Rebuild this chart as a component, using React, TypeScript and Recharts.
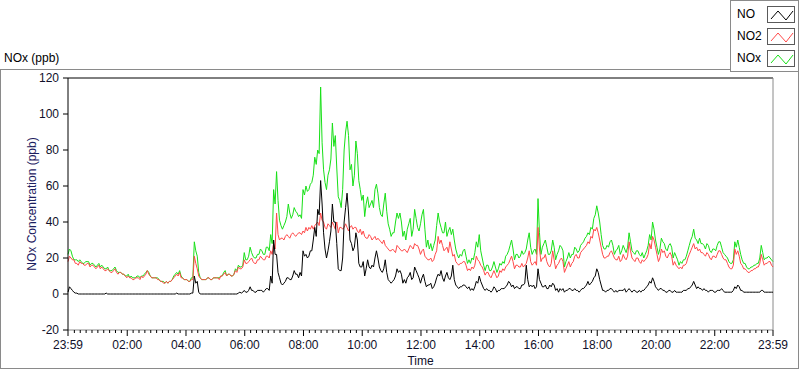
import { LineChart, Line, XAxis, YAxis, ReferenceLine } from "recharts";

// one sample every 3 minutes, starting at 23:59 of the previous day (20 per row = 1 hour)
const STEP_MIN = 3;

const noValues = [
  1, 4, 3, 2, 1, 0.5, 0.5, 0, 0, 0, 0, 0, 0, 0, 0, 0, 0, 0, 0, 0,
  0, 0, 0, 0, 0, 0, 0.5, 0, 0, 0, 0, 0, 0, 0, 0, 0, 0, 0, 0, 0,
  0, 0, 0, 0, 0, 0, 0, 0, 0, 0, 0, 0, 0, 0, 0, 0, 0, 0, 0, 0,
  0, 0, 0, 0, 0, 0, 0, 0, 0, 0, 0, 0, 0, 0, 0.5, 0, 0, 0, 0, 0,
  0, 0, 0, 0, 0.5, 0.5, 10, 6, 7, 1, 0, 0, 0, 0, 0, 0, 0, 0, 0, 0,
  0, 0, 0, 0, 0, 0, 0, 0, 0, 0, 0, 0, 0, 0, 0, 0, 0.5, 1, 0.5, 1,
  2, 1, 1, 2, 4, 2, 2, 1, 1, 2, 2, 2, 2, 1, 2, 3, 3, 2, 10, 6,
  30, 22, 22, 12, 9, 6, 5, 6, 7, 9, 9, 8, 8, 10, 13, 11, 11, 9, 12, 10,
  24, 21, 22, 20, 21, 24, 24, 30, 37, 32, 47, 44, 63, 50, 34, 25, 20, 24, 29, 35,
  50, 40, 40, 28, 14, 13, 13, 20, 40, 48, 56, 45, 30, 28, 24, 26, 34, 30, 17, 15,
  15, 18, 10, 14, 19, 15, 14, 16, 15, 20, 24, 20, 15, 13, 12, 14, 19, 12, 8, 7,
  6, 7, 8, 10, 14, 12, 13, 11, 6, 8, 6, 9, 10, 12, 8, 9, 15, 13, 11, 9,
  6, 9, 11, 7, 4, 5, 5, 6, 3, 4, 6, 9, 11, 10, 13, 9, 7, 10, 12, 9,
  8, 10, 16, 8, 5, 4, 3, 4, 4, 5, 5, 4, 3, 4, 2, 3, 2, 4, 7, 6,
  10, 7, 5, 3, 2, 3, 2, 2, 1, 2, 4, 3, 1, 2, 2, 3, 3, 3, 4, 5,
  7, 6, 4, 5, 3, 4, 4, 3, 3, 5, 5, 6, 16, 8, 4, 5, 4, 5, 3, 4,
  14, 8, 6, 4, 4, 5, 3, 3, 5, 4, 6, 5, 2, 3, 1, 3, 2, 3, 1, 2,
  2, 3, 3, 2, 2, 3, 2, 2, 1, 2, 3, 3, 4, 5, 7, 5, 6, 7, 9, 10,
  14, 12, 8, 5, 2, 2, 1, 2, 2, 3, 3, 2, 1, 2, 1, 2, 2, 2, 2, 3,
  1, 2, 3, 2, 1, 2, 2, 1, 1, 2, 1, 2, 2, 3, 4, 5, 7, 6, 9, 7,
  4, 3, 2, 3, 3, 2, 2, 1, 1, 2, 2, 1, 1, 2, 1, 1, 1, 1, 1, 2,
  2, 2, 3, 3, 4, 5, 7, 5, 3, 4, 3, 3, 2, 3, 2, 2, 1, 2, 2, 2,
  1, 1, 2, 2, 2, 3, 2, 1, 1, 1, 1, 1, 1, 2, 4, 3, 5, 4, 2, 2,
  1, 1, 1, 1, 1, 1, 1, 1, 1, 1, 1, 1, 2, 2, 1, 1, 1, 1, 1, 1, 1,
];

const no2Values = [
  18, 21, 20, 19, 19, 17, 17, 16, 18, 17, 17, 16, 16, 17, 17, 15, 16, 16, 15, 14,
  15, 16, 14, 15, 14, 13, 13, 14, 13, 12, 12, 13, 14, 12, 11, 12, 12, 11, 11, 10,
  9, 10, 9, 9, 8, 8, 9, 9, 9, 8, 10, 9, 10, 11, 13, 11, 10, 9, 9, 9,
  9, 8, 8, 7, 7, 6, 6, 7, 6, 7, 7, 8, 9, 10, 11, 10, 12, 9, 9, 8,
  8, 8, 7, 7, 8, 8, 21, 17, 14, 10, 9, 8, 8, 8, 8, 9, 9, 8, 8, 9,
  9, 9, 9, 8, 10, 10, 11, 12, 10, 11, 11, 10, 10, 11, 13, 12, 15, 14, 14, 15,
  19, 17, 17, 18, 19, 20, 18, 17, 17, 19, 19, 21, 20, 19, 19, 21, 21, 20, 24, 22,
  28, 25, 45, 33, 30, 31, 31, 30, 32, 33, 32, 31, 33, 34, 33, 32, 33, 34, 34, 33,
  35, 34, 37, 35, 37, 36, 38, 36, 38, 39, 40, 38, 45, 41, 40, 37, 36, 39, 38, 37,
  40, 38, 36, 40, 34, 37, 37, 36, 37, 39, 37, 35, 37, 38, 36, 37, 37, 35, 34, 36,
  33, 35, 32, 31, 31, 33, 32, 30, 31, 32, 30, 31, 30, 29, 28, 30, 27, 26, 25, 24,
  24, 25, 24, 23, 27, 26, 25, 24, 24, 25, 24, 23, 25, 27, 26, 25, 28, 27, 27, 25,
  22, 24, 25, 21, 20, 19, 19, 20, 18, 19, 22, 24, 32, 28, 30, 27, 24, 25, 26, 23,
  29, 25, 21, 22, 18, 17, 16, 17, 17, 18, 18, 16, 13, 14, 13, 15, 14, 16, 21, 19,
  18, 16, 15, 13, 10.5, 12, 12, 10, 9, 11, 13, 11, 9, 10, 13, 12, 14, 13, 15, 16,
  17, 19, 21, 18, 14, 16, 16, 15, 15, 17, 15, 16, 17, 20, 24, 18, 16, 17, 18, 16,
  37, 25, 18, 20, 20, 22, 18, 16, 15, 17, 24, 19, 14, 16, 17, 19, 20, 18, 12, 14,
  16, 18, 15, 17, 18, 21, 22, 20, 20, 23, 24, 25, 26, 27, 29, 28, 32, 31, 36, 35,
  37, 34, 30, 26, 22, 20, 20, 21, 21, 23, 24, 22, 20, 19, 19, 21, 18, 19, 22, 20,
  19, 21, 29, 24, 20, 19, 18, 20, 20, 18, 17, 19, 18, 19, 20, 22, 28, 25, 32, 30,
  26, 22, 18, 20, 25, 23, 24, 21, 20, 22, 23, 21, 16, 18, 16, 15, 14, 15, 14, 16,
  16, 17, 20, 22, 24, 26, 28, 25, 26, 24, 25, 23, 23, 22, 21, 23, 22, 20, 19, 21,
  21, 20, 22, 24, 24, 22, 20, 19, 19, 17, 15, 14, 14, 16, 25, 22, 24, 21, 17, 16,
  14, 14, 13, 12, 12, 13, 13, 14, 14, 15, 15, 17, 22, 19, 16, 17, 17, 18, 18, 16, 15,
];

const noxValues = [
  22, 25, 24, 21, 19, 19, 19, 18, 19, 18, 17, 17, 18, 18, 18, 16, 17, 17, 16, 15,
  16, 17, 15, 16, 15, 14, 14, 15, 13, 13, 13, 14, 15, 13, 12, 12, 12, 11, 11, 10,
  10, 11, 9, 10, 9, 9, 9, 10, 10, 9, 10, 10, 11, 12, 13, 12, 10, 9, 9, 9,
  9, 9, 8, 7, 7, 7, 6, 7, 6, 7, 7, 8, 10, 11, 12, 11, 13, 10, 9, 8,
  8, 8, 7, 7, 9, 9, 29, 24, 21, 12, 9, 8, 8, 8, 8, 9, 9, 8, 8, 9,
  9, 9, 9, 9, 10, 10, 12, 13, 10, 11, 11, 10, 10, 11, 14, 13, 16, 15, 15, 16,
  23, 19, 19, 21, 26, 23, 21, 20, 20, 22, 22, 25, 24, 22, 22, 26, 26, 24, 33, 28,
  58, 50, 68, 52, 41, 38, 36, 38, 40, 43, 50, 45, 42, 44, 48, 46, 45, 43, 44, 42,
  58, 55, 60, 57, 58, 61, 62, 66, 76, 72, 80, 78, 115, 84, 69, 62, 58, 66, 69, 75,
  95, 82, 88, 70, 54, 52, 48, 58, 80, 90, 96, 88, 69, 72, 60, 66, 85, 78, 63, 58,
  52, 55, 43, 50, 54, 48, 50, 52, 48, 58, 61, 56, 48, 44, 43, 50, 56, 46, 39, 36,
  32, 34, 34, 40, 45, 42, 45, 40, 32, 35, 30, 36, 39, 42, 32, 36, 47, 42, 37, 35,
  39, 44, 47, 36, 26, 30, 25, 28, 24, 27, 30, 38, 45, 40, 37, 34, 34, 40, 32, 35,
  37, 33, 36, 30, 25, 22, 20, 22, 21, 24, 25, 21, 17, 19, 17, 20, 19, 23, 29, 26,
  33, 24, 20, 16, 13, 16, 16, 13, 13, 15, 18, 15, 12, 14, 17, 16, 18, 17, 21, 22,
  24, 27, 30, 25, 19, 22, 22, 20, 21, 24, 22, 23, 25, 30, 34, 26, 22, 24, 25, 22,
  53, 34, 22, 26, 28, 30, 26, 22, 22, 24, 30, 26, 19, 22, 24, 27, 26, 24, 15, 18,
  20, 23, 20, 22, 22, 26, 25, 23, 24, 27, 28, 29, 31, 32, 34, 33, 37, 36, 42, 44,
  49, 45, 40, 33, 27, 25, 25, 27, 26, 29, 30, 27, 22, 24, 25, 27, 22, 24, 27, 25,
  23, 26, 34, 29, 24, 23, 22, 24, 24, 22, 21, 23, 20, 22, 24, 27, 33, 30, 40, 36,
  30, 26, 22, 25, 31, 29, 28, 25, 24, 27, 28, 26, 20, 23, 21, 19, 16, 18, 17, 19,
  19, 21, 24, 27, 30, 32, 36, 31, 30, 28, 31, 28, 28, 27, 25, 28, 27, 24, 23, 25,
  25, 24, 27, 29, 29, 26, 23, 22, 21, 20, 18, 17, 17, 19, 29, 26, 30, 26, 22, 19,
  17, 17, 15, 14, 14, 15, 15, 16, 16, 17, 17, 20, 27, 23, 19, 20, 20, 21, 20, 19, 18,
];

// minutes since 23:59
const majorTicks = [0, 121, 241, 361, 481, 601, 721, 841, 961, 1081, 1201, 1321, 1440];
const majorLabels = ["23:59", "02:00", "04:00", "06:00", "08:00", "10:00", "12:00", "14:00", "16:00", "18:00", "20:00", "22:00", "23:59"];
const yTicks = [-20, 0, 20, 40, 60, 80, 100, 120];

const minorTicks = Array.from({ length: 119 }, (_, i) => 13 + i * 12).filter((t) => !majorTicks.includes(t));
const allTicks = [...majorTicks, ...minorTicks].sort((a, b) => a - b);

const data = noValues.map((v, i) => ({
  t: i * STEP_MIN,
  NO: v,
  NO2: no2Values[i],
  NOx: noxValues[i],
}));

const TEXT = "#10102a";

const TimeTick = ({ x, y, payload }: any) => {
  const idx = majorTicks.indexOf(payload.value);
  if (idx < 0) {
    return <line x1={x} x2={x} y1={y} y2={y + 3} stroke="#000" />;
  }
  return (
    <g>
      <line x1={x} x2={x} y1={y} y2={y + 6} stroke="#000" />
      <text x={x} y={y + 19} textAnchor="middle" fontSize={12} fill={TEXT}>
        {majorLabels[idx]}
      </text>
    </g>
  );
};

const series = [
  { name: "NO", color: "#000000" },
  { name: "NO2", color: "#ff4848" },
  { name: "NOx", color: "#18e018" },
];

const LegendIcon = ({ color }: { color: string }) => (
  <svg width={28} height={17} style={{ display: "block", border: "1px solid #5a5a5a", boxSizing: "border-box" }}>
    <polyline points="3,12 10,4 18,13 25,4" fill="none" stroke={color} strokeWidth={1} />
  </svg>
);

export default function App() {
  return (
    <div
      style={{
        position: "relative",
        width: 800,
        height: 369,
        background: "#fff",
        fontFamily: "'Liberation Sans', Arial, sans-serif",
        overflow: "hidden",
      }}
    >
      <style>{"body{margin:0}"}</style>
      <div
        style={{
          position: "absolute",
          left: 0,
          top: 69,
          width: 799,
          height: 300,
          boxSizing: "border-box",
          border: "1px solid #8a8a8a",
        }}
      />
      <div style={{ position: "absolute", left: 4, top: 51, fontSize: 12, lineHeight: "14px", color: "#000" }}>
        NOx (ppb)
      </div>
      <div style={{ position: "absolute", left: 0, top: 0 }}>
        <LineChart width={800} height={369} data={data} margin={{ top: 78, right: 27, bottom: 0, left: 0 }}>
          <XAxis
            dataKey="t"
            type="number"
            domain={[0, 1440]}
            ticks={allTicks}
            interval={0}
            tickSize={0}
            tickMargin={0}
            tickLine={false}
            tick={<TimeTick />}
            axisLine={{ stroke: "#8a8a8a" }}
            height={39}
            label={{ value: "Time", position: "insideBottom", offset: 4, fill: TEXT, fontSize: 12 }}
          />
          <YAxis
            type="number"
            domain={[-20, 120]}
            ticks={yTicks}
            interval={0}
            width={68}
            tickSize={5}
            tickMargin={4}
            tickLine={{ stroke: "#000" }}
            axisLine={{ stroke: "#000" }}
            tick={{ fill: TEXT, fontSize: 12 }}
            label={{
              value: "NOx Concentration (ppb)",
              angle: -90,
              position: "center",
              dx: -2,
              fill: "#1c2060",
              fontSize: 12,
            }}
          />
          <ReferenceLine y={120} stroke="#000" />
          <ReferenceLine x={1440} stroke="#8a8a8a" />
          <Line dataKey="NOx" stroke="#18e018" strokeWidth={1} dot={false} isAnimationActive={false} />
          <Line dataKey="NO2" stroke="#ff4848" strokeWidth={1} dot={false} isAnimationActive={false} />
          <Line dataKey="NO" stroke="#000000" strokeWidth={1} dot={false} isAnimationActive={false} />
        </LineChart>
      </div>
      <div
        style={{
          position: "absolute",
          left: 730,
          top: 0,
          width: 69,
          height: 72,
          boxSizing: "border-box",
          border: "1px solid #8a8a8a",
          background: "#fff",
        }}
      >
        {series.map((s, i) => (
          <div
            key={s.name}
            style={{ position: "absolute", left: 0, top: 5 + i * 22, width: 67, height: 17 }}
          >
            <span style={{ position: "absolute", left: 6, top: 1, fontSize: 12, lineHeight: "14px", color: "#000" }}>
              {s.name}
            </span>
            <div style={{ position: "absolute", left: 36 }}>
              <LegendIcon color={s.color} />
            </div>
          </div>
        ))}
      </div>
    </div>
  );
}
